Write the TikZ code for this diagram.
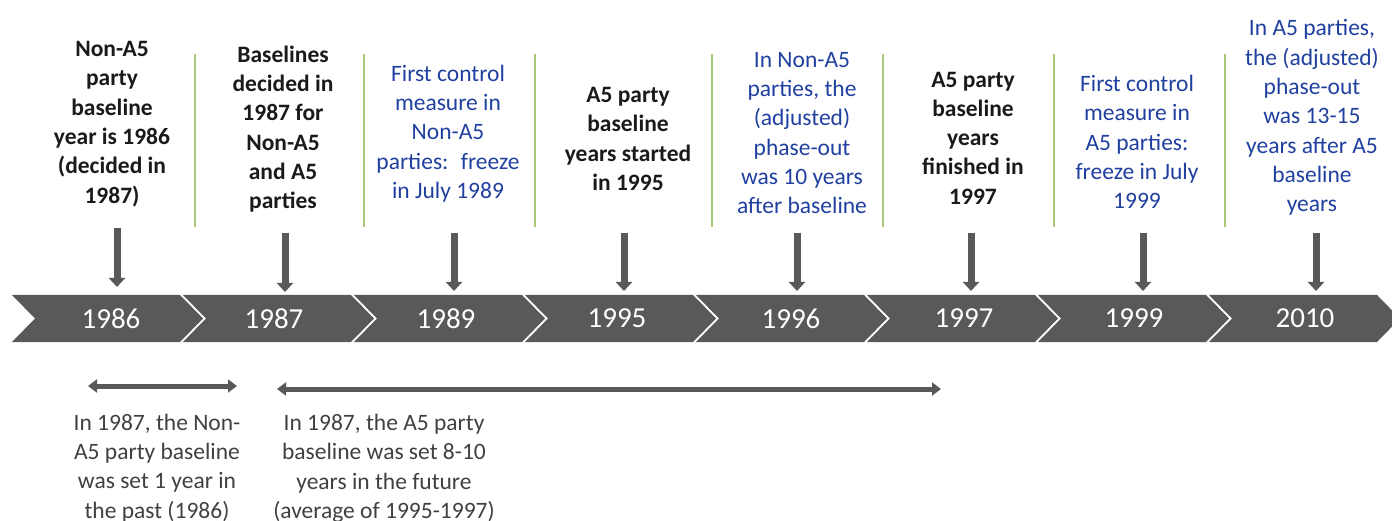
\documentclass[tikz,border=0pt]{standalone}
\usepackage{fontspec}
\setmainfont{Carlito}
\usetikzlibrary{arrows.meta,positioning}

\definecolor{slate}{RGB}{89,89,89}
\definecolor{leaf}{RGB}{169,201,122}
\definecolor{navy}{RGB}{32,64,160}
\definecolor{ink}{RGB}{26,26,26}
\definecolor{note}{RGB}{64,64,64}

\begin{document}
\begin{tikzpicture}[x=1pt,y=-1pt,
  every node/.style={inner sep=0pt,align=center},
  event/.style={font=\fontsize{23.5}{29.3}\selectfont\bfseries,text=ink},
  measure/.style={font=\fontsize{23.5}{29.3}\selectfont,text=navy},
  year/.style={font=\fontsize{29}{34}\selectfont,text=white},
  span/.style={font=\fontsize{23.5}{29.3}\selectfont,text=note},
  drop/.style={line width=7pt,color=slate,-{Triangle[width=16pt,length=9pt]}},
  spanarrow/.style={line width=5pt,color=slate,{Triangle[width=13pt,length=9pt]}-{Triangle[width=13pt,length=9pt]}},
  divider/.style={line width=2pt,color=leaf}]

	\useasboundingbox (0,0) rectangle (1392,521);

	% timeline
	\foreach \l in {12,183,...,1209}
		\fill[slate] (\l,295) -- ++(168,0) -- ++(23,23.5) -- ++(-23,23.5) -- ++(-168,0) -- ++(23,-23.5) -- cycle;

	\node[year] (y86) at (111,318.5) {1986};
	\node[year] (y87) at (274,318.5) {1987};
	\node[year] (y89) at (446,318.5) {1989};
	\node[year] (y95) at (617,318.5) {1995};
	\node[year] (y96) at (791,318.5) {1996};
	\node[year] (y97) at (964,318.5) {1997};
	\node[year] (y99) at (1134,318.5) {1999};
	\node[year] (y10) at (1305,318.5) {2010};

	% dividers
	\foreach \x in {195,364,535,712,883,1054,1225}
		\draw[divider] (\x,54) -- (\x,227);

	% events
	\node[event] (e86) at (112,124) {Non-A5\\party\\baseline\\year is 1986\\(decided in\\1987)};
	\node[event] (e87) at (283,129) {Baselines\\decided in\\1987 for\\Non-A5\\and A5\\parties};
	\node[measure] (e89) at (448,133.5) {First control\\measure in\\Non-A5\\parties:~ freeze\\in July 1989};
	\node[event] (e95) at (628,139) {A5 party\\baseline\\years started\\in 1995};
	\node[measure] (e96) at (802,133) {In Non-A5\\parties, the\\(adjusted)\\phase-out\\was 10 years\\after baseline};
	\node[event] (e97) at (973,138) {A5 party\\baseline\\years\\finished in\\1997};
	\node[measure] (e99) at (1137,142) {First control\\measure in\\A5 parties:\\freeze in July\\1999};
	\node[measure] (e10) at (1312,117.5) {In A5 parties,\\the (adjusted)\\phase-out\\was 13-15\\years after A5\\baseline\\years};

	\coordinate (a1) at (117,228);  \coordinate (b1) at (117,287);
	\coordinate (a2) at (285,233);  \coordinate (b2) at (285,292);
	\coordinate (a3) at (454,233);  \coordinate (b3) at (454,291);
	\coordinate (a4) at (624,233);  \coordinate (b4) at (624,291);
	\coordinate (a5) at (797,233);  \coordinate (b5) at (797,291);
	\coordinate (a6) at (971,233);  \coordinate (b6) at (971,291);
	\coordinate (a7) at (1143,233); \coordinate (b7) at (1143,291);
	\coordinate (a8) at (1316,233); \coordinate (b8) at (1316,291);

	\path[drop]
		(a1) edge (b1)
		(a2) edge (b2)
		(a3) edge (b3)
		(a4) edge (b4)
		(a5) edge (b5)
		(a6) edge (b6)
		(a7) edge (b7)
		(a8) edge (b8);

	% spans below
	\coordinate (l1) at (88,386);  \coordinate (r1) at (237,386);
	\coordinate (l2) at (277,389); \coordinate (r2) at (941,389);

	\path[spanarrow]
		(l1) edge (r1)
		(l2) edge (r2);

	\node[span] (s1) at (157,468) {In 1987, the Non-\\A5 party baseline\\was set 1 year in\\the past (1986)};
	\node[span] (s2) at (384,468.5) {In 1987, the A5 party\\baseline was set 8-10\\years in the future\\(average of 1995-1997)};

\end{tikzpicture}
\end{document}
